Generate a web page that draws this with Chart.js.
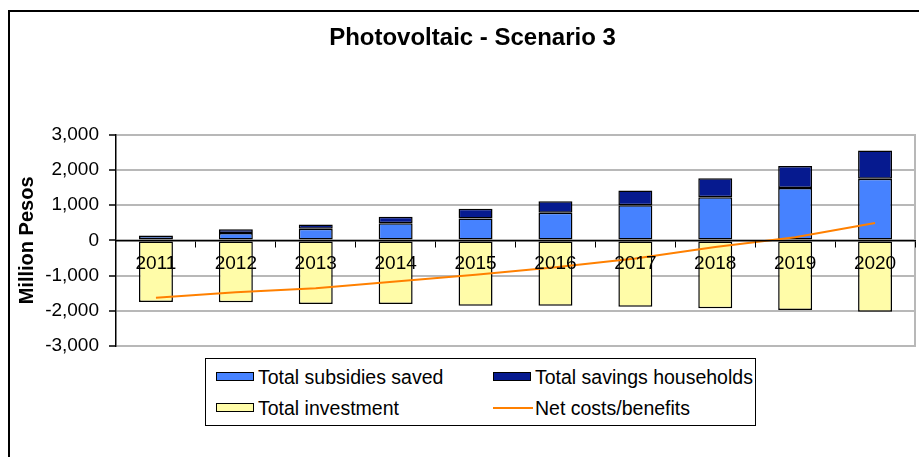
<!DOCTYPE html>
<html>
<head>
<meta charset="utf-8">
<script src="https://cdn.jsdelivr.net/npm/chart.js@4"></script>
<style>
  body { margin: 0; overflow: hidden; background: #fff; font-family: "Liberation Sans", Arial, sans-serif; }
  #frame { position: absolute; left: 8px; top: 10px; width: 1000px; height: 1000px;
           border-left: 2px solid #000; border-top: 2px solid #000; }
  #wrap { position: absolute; left: 0; top: 0; width: 940px; height: 457px; }
  #legend { position: absolute; left: 205px; top: 358px; width: 551px; height: 68px;
            box-sizing: border-box; border: 1px solid #000; background: #fff; }
  .item { position: absolute; height: 22px; line-height: 22px; font-size: 19.5px; color: #000; white-space: nowrap; }
  .swatch { position: absolute; left: 0; top: 6px; width: 38px; height: 9px; box-sizing: border-box; border: 1px solid #000; }
  .lineSwatch { position: absolute; left: 0; top: 10px; width: 40px; height: 2px; }
  .item span.lbl { position: absolute; left: 42px; top: 0; }
</style>
</head>
<body>
<div id="frame"></div>
<div id="wrap"><canvas id="pv-chart"></canvas></div>
<div id="legend"></div>
<script>
// data (million pesos)
const years = ["2011", "2012", "2013", "2014", "2015", "2016", "2017", "2018", "2019", "2020"];
const subsidiesSaved = [125, 211, 334, 486, 620, 783, 1000, 1229, 1486, 1754];
const householdSavings = [15, 103, 116, 183, 277, 331, 420, 534, 628, 800];
const totalInvestment = [-1750, -1760, -1810, -1810, -1857, -1860, -1886, -1931, -1980, -2029];
const netCostsBenefits = [-1630, -1475, -1360, -1170, -975, -765, -515, -190, 90, 495];
const yMin = -3000;
const yMax = 3000;
const yStep = 1000;

const FONT = "'Liberation Sans', Arial, sans-serif";
Chart.defaults.font.family = FONT;
Chart.defaults.color = "#000";

const ctx = document.getElementById("pv-chart");

const pvChart = new Chart(ctx, {
  type: "bar",
  data: {
    labels: years,
    datasets: [
      {
        label: "Total subsidies saved",
        data: subsidiesSaved,
        backgroundColor: "#4682ff",
        borderColor: "#000",
        borderWidth: 1.5,
        borderSkipped: false,
      },
      {
        label: "Total savings households",
        data: householdSavings,
        backgroundColor: "#061a8f",
        borderColor: "#000",
        borderWidth: 1.5,
        borderSkipped: false,
      },
      {
        label: "Total investment",
        data: totalInvestment,
        backgroundColor: "#fffca8",
        borderColor: "#000",
        borderWidth: 1.5,
        borderSkipped: false,
      },
      {
        type: "line",
        label: "Net costs/benefits",
        data: netCostsBenefits,
        borderColor: "#ff8000",
        backgroundColor: "#ff8000",
        borderWidth: 2,
        pointRadius: 0,
        tension: 0,
        stack: "net",
        order: -1,
      },
    ],
  },
  options: {
    responsive: true,
    maintainAspectRatio: false,
    animation: false,
    datasets: {
      bar: { categoryPercentage: 1, barPercentage: 0.425 },
    },
    layout: { padding: { left: 5, right: 0, top: 10, bottom: 111 } },
    plugins: {
      legend: { display: false },
      tooltip: { enabled: false },
      title: {
        display: true,
        text: "Photovoltaic - Scenario 3",
        color: "#000",
        font: { size: 24, weight: "bold", family: FONT },
        padding: { top: 14, bottom: 82 },
      },
    },
    scales: {
      x: {
        stacked: true,
        position: { y: 0 },
        offset: true,
        grid: {
          display: true,
          drawOnChartArea: false,
          drawTicks: true,
          tickLength: 6,
          color: "#000",
          tickColor: "#000",
          offset: true,
          z: 1,
        },
        border: { display: true, color: "#000", width: 1.5, z: 1 },
        ticks: { font: { size: 19 }, color: "#000", padding: 6, maxRotation: 0, z: 1 },
      },
      y: {
        stacked: true,
        position: "left",
        min: yMin,
        max: yMax,
        afterFit: (scale) => { scale.width = 111; },
        ticks: { stepSize: yStep, font: { size: 19 }, color: "#000", padding: 10 },
        grid: { color: "#b8b8b8", lineWidth: 2, tickColor: "#000", tickLength: 7, tickWidth: 1.5 },
        border: { display: true, color: "#000", width: 1.5 },
        title: {
          display: true,
          text: "Million Pesos",
          color: "#000",
          font: { size: 20, weight: "bold" },
          padding: { top: 10, bottom: 0 },
        },
      },
      yRight: {
        position: "right",
        display: true,
        afterFit: (scale) => { scale.width = 25; },
        ticks: { display: false },
        grid: { drawOnChartArea: false, drawTicks: false },
        border: { display: true, color: "#b8b8b8", width: 2 },
      },
    },
  },
});

// legend box (2 x 2) built from the chart's datasets
function buildLegend(chart) {
  const box = document.getElementById("legend");
  const slots = [
    { left: 10, top: 7 },
    { left: 287, top: 7 },
    { left: 10, top: 38 },
    { left: 287, top: 38 },
  ];
  chart.data.datasets.forEach((ds, i) => {
    const item = document.createElement("div");
    item.className = "item";
    item.style.left = slots[i].left + "px";
    item.style.top = slots[i].top + "px";
    const sw = document.createElement("div");
    if (ds.type === "line") {
      sw.className = "lineSwatch";
      sw.style.background = ds.borderColor;
    } else {
      sw.className = "swatch";
      sw.style.background = ds.backgroundColor;
    }
    const lbl = document.createElement("span");
    lbl.className = "lbl";
    lbl.textContent = ds.label;
    item.appendChild(sw);
    item.appendChild(lbl);
    box.appendChild(item);
  });
}
buildLegend(pvChart);
</script>
</body>
</html>
